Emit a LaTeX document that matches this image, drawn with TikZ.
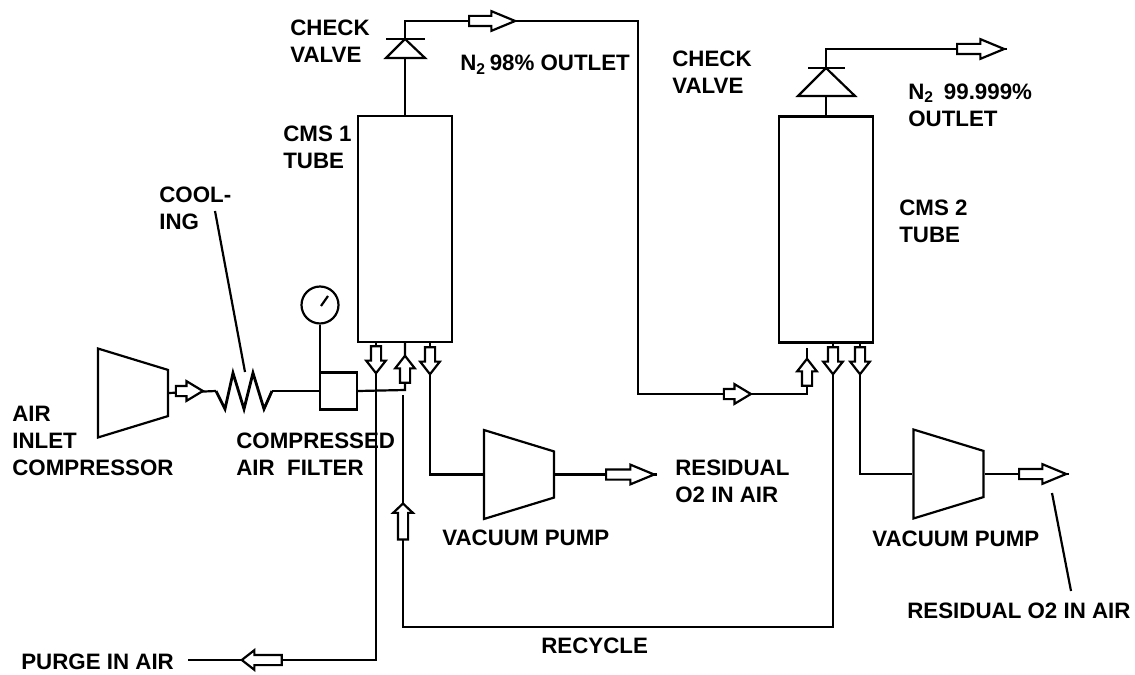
\documentclass[tikz,border=0pt]{standalone}
\usepackage{fontspec}
\setmainfont{Liberation Sans}
\usetikzlibrary{shapes.arrows,shapes.geometric,calc}
\tikzset{
    pipe/.style={line width=1.25pt,line join=miter},
    label/.style={anchor=west,inner sep=0pt,align=left,font=\bfseries\fontsize{12.7}{15.3}\selectfont},
    flowarrow/.style 2 args={single arrow,draw,fill=white,pipe,anchor=tip,inner xsep=0pt,inner ysep=0.8mm,
        minimum width=3.5mm,single arrow head extend=0.95mm,
        minimum height=#1*0.02cm,shape border rotate=0,single arrow tip angle=#2},
    machine/.style={trapezium,draw,pipe,rotate=-90,inner sep=1pt,trapezium stretches=true,
        trapezium angle=66,minimum width=1.78cm,minimum height=1.4cm},
    tube/.style={rectangle,draw,pipe,inner sep=0pt,minimum width=1.88cm,minimum height=4.52cm}
}
\begin{document}
\begin{tikzpicture}[x=0.02cm,y=-0.02cm]
    \useasboundingbox (0,0) rectangle (1135,675);

    % Tubes
    \node[tube] (tubeA) at (405,229) {};
    \node[tube] (tubeB) at (826,229.5) {};

    % Machines
    \node[machine] (compressor) at (133,393) {\phantom{x}};
    \node[machine] (pumpA) at (519,474.5) {\phantom{x}};
    \node[machine] (pumpB) at (948.5,474) {\phantom{x}};

    % Filter and gauge
    \node[rectangle,draw,pipe,inner sep=0pt,minimum size=0.74cm] (filter) at (338.5,391) {};
    \node[circle,draw,pipe,inner sep=0pt,minimum size=0.74cm] (gauge) at (320,305) {};
    \draw[pipe] (321,306) -- (328,296);
    \draw[pipe] (gauge) -- (gauge |- filter.north);

    % Check valve 1
    \coordinate (valveAtip) at (405,39);
    \coordinate (valveAbase) at (405,58);
    \draw[pipe] (386,39) -- (425,39);
    \draw[pipe] (valveAtip) -- (386,58) -- (425,58) -- cycle;
    \draw[pipe] (tubeA.north) -- (valveAbase);

    % Check valve 2
    \coordinate (valveBtip) at (826,68);
    \coordinate (valveBbase) at (826,96);
    \draw[pipe] (808,68) -- (845,68);
    \draw[pipe] (valveBtip) -- (798,96) -- (855,96) -- cycle;
    \draw[pipe] (tubeB.north) -- (valveBbase);

    % Outlet of tube 1 to tube 2
    \coordinate (feedB) at (807,348);
    \draw[pipe] (valveAtip) -- (405,21) -- (638,21) -- (638,394) -- (807,394) -- (feedB);
    \node[flowarrow={46}{45}] (outA) at (518,21) {};
    \node[flowarrow={27}{62}] (inB) at (753,394) {};
    \node[flowarrow={27}{76},rotate=90] (upB) at (807,357) {};

    % Outlet of tube 2
    \coordinate (endB) at (1007,49);
    \draw[pipe] (valveBtip) -- (826,49) -- (endB);
    \node[flowarrow={47}{45}] (outB) at (endB) {};

    % Air inlet
    \coordinate (coilstart) at (216,391);
    \coordinate (coilend) at (272,391);
    \draw[pipe] (compressor.top side) -- (coilstart);
    \node[flowarrow={27}{62}] (inA) at (205,391) {};
    \draw[pipe,line width=1.6pt] (coilstart) -- (225,409) -- (233,373) -- (244,409) -- (253,373) -- (264,409) -- (coilend);
    \draw[pipe] (coilend) -- (filter.west);
    \draw[pipe] (215,211) -- (245,372);

    % Tube 1 bottom
    \coordinate (feedA) at (405,342);
    \draw[pipe] (filter.east) -- (405,390) -- (feedA);
    \node[flowarrow={27}{76},rotate=90] (upA) at (405,354) {};

    % Purge
    \coordinate (purgeA) at (376,342);
    \coordinate (purgeend) at (188,660);
    \draw[pipe] (purgeA) -- (376,660) -- (purgeend);
    \node[flowarrow={27}{76},rotate=-90] (downA) at (376,375) {};
    \node[flowarrow={40}{76},rotate=180] (purge) at (240,660) {};

    % Pump 1
    \coordinate (suctionA) at (430,342);
    \coordinate (endA) at (657,474.5);
    \draw[pipe] (suctionA) -- (430,474.5) -- (pumpA.bottom side);
    \draw[pipe] (pumpA.top side) -- (endA);
    \node[flowarrow={27}{76},rotate=-90] (pumpinA) at (430,376) {};
    \node[flowarrow={48}{45}] (pumpoutA) at (endA) {};

    % Recycle
    \coordinate (recycleB) at (833,343);
    \coordinate (recyclestart) at (403,395);
    \draw[pipe] (recycleB) -- (833,627) -- (403,627) -- (recyclestart);
    \node[flowarrow={27}{76},rotate=-90] (downB) at (833,376) {};
    \node[flowarrow={36}{93},rotate=90] (recycle) at (403,502) {};

    % Pump 2
    \coordinate (suctionB) at (860,343);
    \coordinate (endC) at (1069,474);
    \draw[pipe] (suctionB) -- (860,474) -- (pumpB.bottom side);
    \draw[pipe] (pumpB.top side) -- (endC);
    \node[flowarrow={27}{76},rotate=-90] (pumpinB) at (860,376) {};
    \node[flowarrow={47}{45}] (pumpoutB) at (endC) {};
    \draw[pipe] (1052,493) -- (1071,591);

    % Labels
    \node[label] (checkA) at (290,41.5) {CHECK\\VALVE};
    \node[label] (outletA) at (460,65) {N\textsubscript{2}\,98\% OUTLET};
    \node[label] (checkB) at (672,72.5) {CHECK\\VALVE};
    \node[label] (outletB) at (908,105) {N\textsubscript{2}~\,99.999\%\\OUTLET};
    \node[label] (cmsA) at (283,147) {CMS 1\\TUBE};
    \node[label] (cmsB) at (899,221) {CMS 2\\TUBE};
    \node[label] (cooling) at (159,208.5) {COOL-\\ING};
    \node[label] (inlet) at (12,441) {AIR\\INLET\\COMPRESSOR};
    \node[label] (filtertext) at (236,454) {COMPRESSED\\AIR~ FILTER};
    \node[label] (residualA) at (675,481) {RESIDUAL\\O2 IN AIR};
    \node[label] (vacuumA) at (442,538) {VACUUM PUMP};
    \node[label] (vacuumB) at (872,539) {VACUUM PUMP};
    \node[label] (residualB) at (907,611) {RESIDUAL O2 IN AIR};
    \node[label] (recycletext) at (541,646) {RECYCLE};
    \node[label] (purgetext) at (21,662) {PURGE IN AIR};
\end{tikzpicture}
\end{document}
